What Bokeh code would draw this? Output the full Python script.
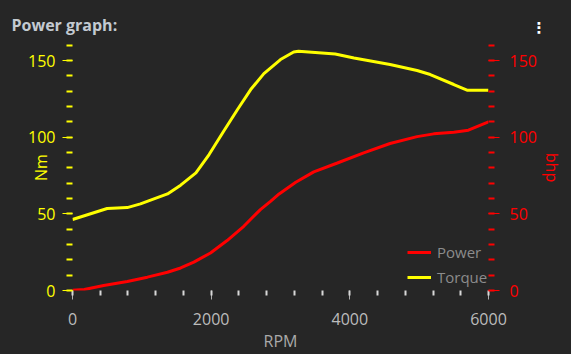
from bokeh.plotting import figure
from bokeh.models import (Range1d, LinearAxis, SingleIntervalTicker, Title, Legend, LegendItem)
from bokeh.embed import file_html
from bokeh.resources import INLINE

# ---- data ----
torque_rpm = [0, 500, 790, 980, 1370, 1560, 1780, 1970, 2180, 2380, 2570, 2760,
              3000, 3190, 3260, 3790, 4060, 4580, 4970, 5160, 5500, 5690, 6000]
torque_nm = [46.3, 53.5, 54.1, 56.5, 63.0, 68.7, 76.7, 88.7, 103.9, 118.1, 131.1, 141.5,
             150.7, 155.6, 156.1, 154.3, 151.7, 147.4, 143.5, 140.9, 134.4, 130.7, 130.7]
power_rpm = [0, 170, 450, 790, 1080, 1370, 1560, 1750, 1990, 2230, 2470, 2710,
             2860, 2980, 3220, 3480, 3820, 4200, 4580, 4970, 5210, 5500, 5710, 6000]
power_bhp = [0.2, 0.7, 3.3, 5.9, 8.7, 11.9, 14.7, 18.5, 24.5, 32.6, 41.9, 52.8,
             58.3, 63.0, 70.6, 77.4, 83.2, 89.8, 95.9, 100.4, 102.2, 103.3, 104.6, 110.0]

title_text = "Power graph:"
menu_text = "\u22ee"
x_label = "RPM"
left_label = "Nm"
right_label = "bhp"
series_names = ["Power", "Torque"]

BG = "#262626"
YEL = "#ffff00"
RED = "#ff0000"
FONT = "Open Sans"

p = figure(width=571, height=354, output_backend="svg", toolbar_location=None,
           title=None,
           x_range=Range1d(0, 6000), y_range=Range1d(0, 160.5),
           min_border_left=72, min_border_right=83, min_border_top=44, min_border_bottom=64,
           background_fill_color=BG, border_fill_color=None, outline_line_color=None,
           x_axis_location=None, y_axis_location=None)
p.styles = {"background-color": BG}
p.grid.visible = False
p.extra_y_ranges = {"bhp": Range1d(0, 160.5)}

# bottom axis
xa = LinearAxis(ticker=SingleIntervalTicker(interval=2000, num_minor_ticks=5))
xa.axis_line_color = None
xa.major_tick_line_color = "#b0b0b0"
xa.major_tick_line_width = 1
xa.major_tick_in = 0
xa.major_tick_out = 9
xa.minor_tick_line_color = "#d8d8d8"
xa.minor_tick_line_width = 2
xa.minor_tick_in = 0
xa.minor_tick_out = 5
xa.major_label_text_color = "#bcbcbc"
xa.major_label_text_font = FONT
xa.major_label_text_font_size = "16px"
xa.major_label_standoff = 13
xa.axis_label = x_label
xa.axis_label_text_color = "#aaaaaa"
xa.axis_label_text_font = FONT
xa.axis_label_text_font_size = "16px"
xa.axis_label_text_font_style = "normal"
xa.axis_label_standoff = 2
p.add_layout(xa, "below")

# left axis
ya = LinearAxis(ticker=SingleIntervalTicker(interval=50, num_minor_ticks=5))
ya.axis_line_color = None
ya.major_tick_line_color = YEL
ya.major_tick_line_width = 1
ya.major_tick_in = 0
ya.major_tick_out = 10
ya.minor_tick_line_color = YEL
ya.minor_tick_line_width = 2
ya.minor_tick_in = 0
ya.minor_tick_out = 6
ya.major_label_text_color = YEL
ya.major_label_text_font = FONT
ya.major_label_text_font_size = "16px"
ya.major_label_standoff = 7
ya.axis_label = left_label
ya.axis_label_text_color = YEL
ya.axis_label_text_font = FONT
ya.axis_label_text_font_size = "16px"
ya.axis_label_text_font_style = "normal"
ya.axis_label_standoff = -27
p.add_layout(ya, "left")

# right axis
ra = LinearAxis(y_range_name="bhp", ticker=SingleIntervalTicker(interval=50, num_minor_ticks=5))
ra.axis_line_color = None
ra.major_tick_line_color = RED
ra.major_tick_line_width = 1
ra.major_tick_in = 0
ra.major_tick_out = 11
ra.minor_tick_line_color = RED
ra.minor_tick_line_width = 2
ra.minor_tick_in = 0
ra.minor_tick_out = 6
ra.major_label_text_color = RED
ra.major_label_text_font = FONT
ra.major_label_text_font_size = "16px"
ra.major_label_standoff = 10
ra.axis_label = right_label
ra.axis_label_text_color = RED
ra.axis_label_text_font = FONT
ra.axis_label_text_font_size = "16px"
ra.axis_label_text_font_style = "normal"
ra.axis_label_standoff = 1
p.add_layout(ra, "right")

r_power = p.line(power_rpm, power_bhp, y_range_name="bhp", line_color=RED, line_width=3)
r_torque = p.line(torque_rpm, torque_nm, line_color=YEL, line_width=3)

legend = Legend(items=[LegendItem(label=series_names[0], renderers=[r_power]),
                       LegendItem(label=series_names[1], renderers=[r_torque])],
                location=(335, 3))
legend.background_fill_alpha = 0
legend.border_line_alpha = 0
legend.label_text_color = "#8c8c8c"
legend.label_text_font = FONT
legend.label_text_font_size = "15px"
legend.glyph_width = 24
legend.glyph_height = 18
legend.label_height = 18
legend.label_standoff = 6
legend.spacing = 5
legend.padding = 0
legend.margin = 0
p.add_layout(legend, "center")

t_main = Title(text=title_text, align="left", offset=-61, vertical_align="bottom",
               standoff=18, text_font=FONT, text_font_size="16px", text_font_style="bold",
               text_color="#c3cad1")
p.add_layout(t_main, "above")

t_menu = Title(text=menu_text, align="right", offset=-58, vertical_align="bottom",
               standoff=-68, text_font="DejaVu Sans", text_font_size="15px",
               text_font_style="bold", text_color="#ffffff")
p.add_layout(t_menu, "above")

open("out.html", "w").write(file_html(p, INLINE))
